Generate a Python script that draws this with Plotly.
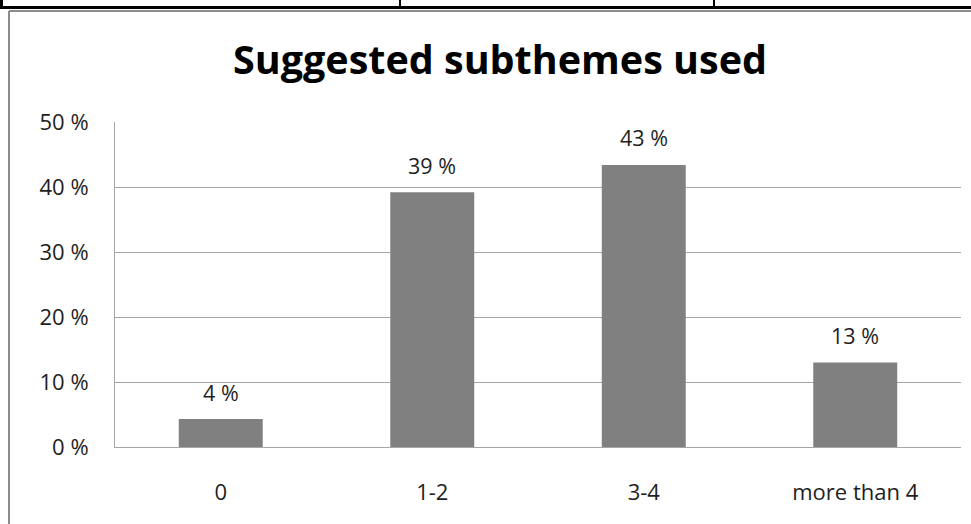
import plotly.graph_objects as go

# Share of entries by number of suggested subthemes used
categories = ["0", "1-2", "3-4", "more than 4"]
shares = [0.043, 0.392, 0.434, 0.130]
y_ticks = [0.0, 0.1, 0.2, 0.3, 0.4, 0.5]
y_tick_labels = [f"{round(t * 100)} %" for t in y_ticks]
bar_labels = [f"{round(v * 100)} %" for v in shares]

W, H = 971, 524
L, R, T, B = 115, 10, 122, 77


def px_x(px):
    return (px - L) / (W - L - R)


def px_y(py):
    return (H - B - py) / (H - T - B)


FONT = "'Open Sans', Lato, sans-serif"
TEXT = "#1e1e1e"

fig = go.Figure(
    go.Bar(
        x=categories,
        y=shares,
        marker=dict(color="#808080", line=dict(width=0)),
        hoverinfo="skip",
    )
)

for cat, val, lab in zip(categories, shares, bar_labels):
    fig.add_annotation(
        x=cat, y=val, text=lab, showarrow=False,
        yanchor="middle", yshift=27,
        font=dict(family=FONT, size=21.5, color=TEXT),
    )

# Bottom edge of the table row above the chart
fig.add_annotation(
    xref="paper", yref="paper", x=px_x(19), y=px_y(4),
    xanchor="left", yanchor="bottom", text="<b>Total</b>", showarrow=False,
    font=dict(family="Liberation Sans, Arial, sans-serif", size=22, color="#000000"),
)

shapes = [
    # table borders
    dict(type="line", xref="paper", yref="paper", x0=px_x(0), x1=px_x(W),
         y0=px_y(7.5), y1=px_y(7.5), line=dict(color="#000000", width=3)),
    dict(type="line", xref="paper", yref="paper", x0=px_x(1.5), x1=px_x(1.5),
         y0=px_y(-2), y1=px_y(8), line=dict(color="#000000", width=3)),
    dict(type="line", xref="paper", yref="paper", x0=px_x(400), x1=px_x(400),
         y0=px_y(-2), y1=px_y(8), line=dict(color="#000000", width=2)),
    dict(type="line", xref="paper", yref="paper", x0=px_x(714), x1=px_x(714),
         y0=px_y(-2), y1=px_y(8), line=dict(color="#000000", width=2)),
    # chart frame
    dict(type="line", xref="paper", yref="paper", x0=px_x(9), x1=px_x(W + 5),
         y0=px_y(11), y1=px_y(11), line=dict(color="#8c8c8c", width=2)),
    dict(type="line", xref="paper", yref="paper", x0=px_x(9), x1=px_x(9),
         y0=px_y(11), y1=px_y(H + 5), line=dict(color="#8c8c8c", width=2)),
]

fig.update_layout(
    width=W, height=H,
    margin=dict(l=L, r=R, t=T, b=B, pad=0),
    paper_bgcolor="#ffffff",
    plot_bgcolor="#ffffff",
    bargap=0.603,
    showlegend=False,
    shapes=shapes,
    title=dict(
        text="<b>Suggested subthemes used</b>",
        x=500 / W, xanchor="center", xref="container",
        y=1 - 60 / H, yanchor="middle", yref="container",
        font=dict(family=FONT, size=39.5, color="#000000"),
    ),
    font=dict(family=FONT, color=TEXT),
)

fig.update_xaxes(
    showline=True, linecolor="#a6a6a6", linewidth=1,
    showgrid=False, ticks="", ticklabelstandoff=26,
    tickfont=dict(family=FONT, size=22, color=TEXT),
    fixedrange=True,
)
fig.update_yaxes(
    range=[0, 0.5], tickvals=y_ticks, ticktext=y_tick_labels,
    showline=True, linecolor="#a6a6a6", linewidth=1,
    showgrid=True, gridcolor="#a6a6a6", gridwidth=1,
    zeroline=False, ticks="", ticklabelstandoff=21,
    tickfont=dict(family=FONT, size=22, color=TEXT),
    fixedrange=True,
)

fig.write_html("out.html", config=dict(displayModeBar=False))
